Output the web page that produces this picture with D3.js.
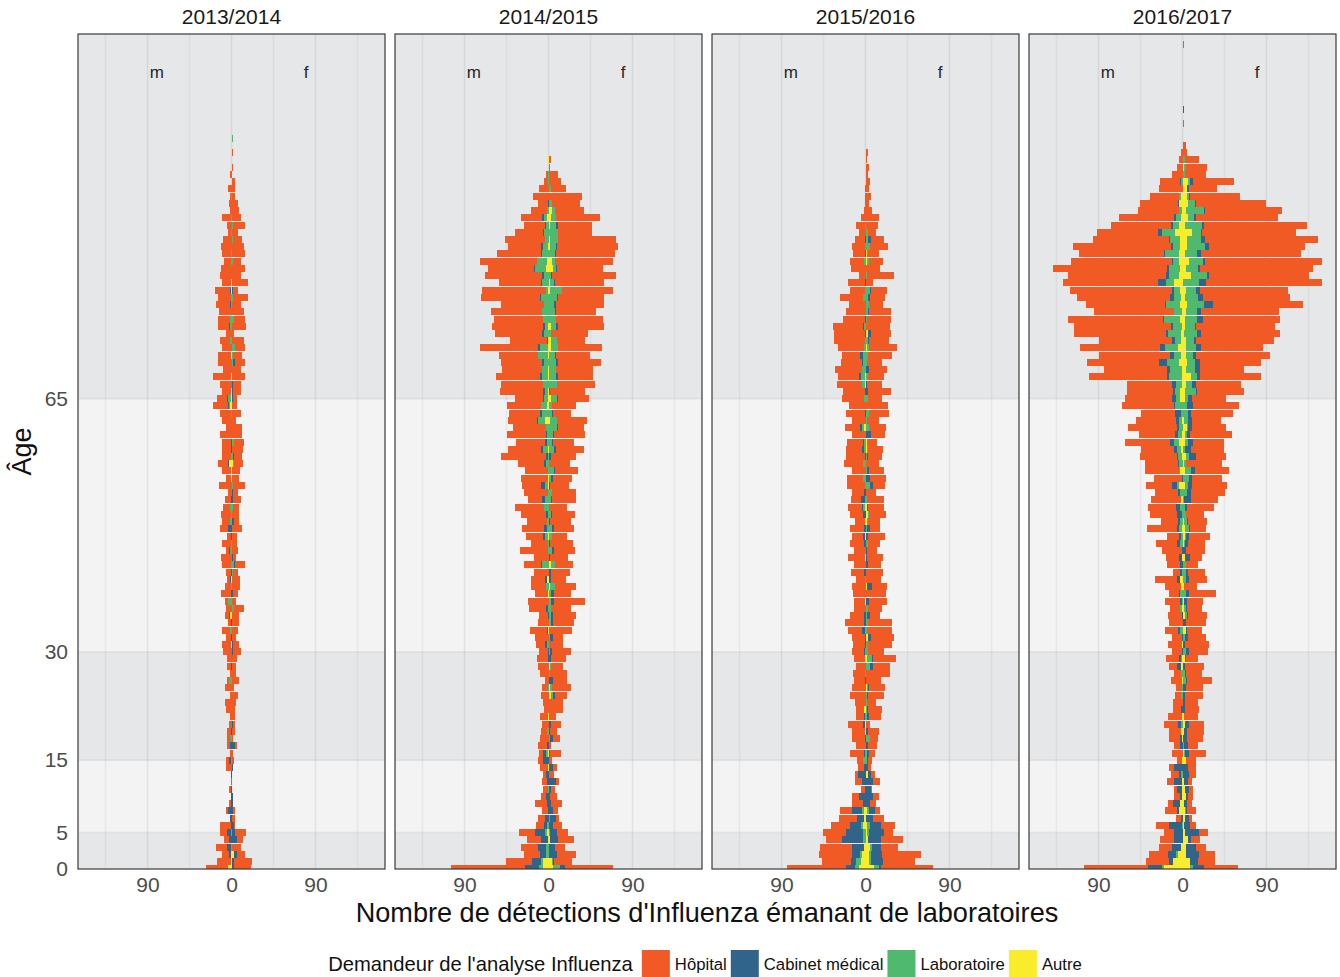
<!DOCTYPE html>
<html>
<head>
<meta charset="utf-8">
<script src="https://cdn.jsdelivr.net/npm/d3@7"></script>
<style>
  body { margin: 0; background: #fff; }
  svg text { font-family: "Liberation Sans", Arial, sans-serif; }
</style>
</head>
<body>
<div class="chart"></div>
<script>
// facets, requester categories and their colours
var seasons = ["2013/2014", "2014/2015", "2015/2016", "2016/2017"];
var categories = ["Hôpital", "Cabinet médical", "Laboratoire", "Autre"];
var colors = ["#F15A24", "#30648A", "#4FB96F", "#F8EC2B"];
var ageBreaks = [0, 5, 15, 30, 65];
var xTicks = [-90, 0, 90];
var xMinor = [-135, -45, 45, 135];

// detections per age (index = age in years), m = left, f = right
var hopM_1314 = [23,15,7,12,5,7,11,0,2,2, 0,2,1,0,6,3,2,3,3,4, 3,2,6,7,2,7,2,2,4,5, 9,9,5,8,3,4,6,3,10,6, 3,5,9,11,3,9,4,8,8,10, 7,6,4,13,5,9,10,9,9,9, 12,6,10,11,16,11,9,12,19,9, 14,13,10,10,6,12,13,13,15,13, 16,9,12,11,7,9,11,9,3,5, 9,2,3,1,4,0,2,0,0,0, 0,0];
var cabM_1314 = [0,0,2,4,3,4,1,2,4,1, 1,1,0,1,0,2,0,2,0,1, 0,0,0,0,0,0,0,0,1,0, 0,0,1,0,1,1,0,0,1,0, 1,1,0,0,1,0,1,4,0,0, 0,1,0,0,0,0,1,0,1,1, 0,0,0,0,1,1,0,0,0,0, 0,0,0,0,0,1,0,0,1,0, 1];
var labM_1314 = [0,0,0,1,0,1,0,0,0,0, 0,0,0,0,0,1,0,0,2,0, 0,0,0,0,0,0,3,0,0,0, 0,0,0,2,0,0,0,4,0,1, 0,0,1,0,2,1,0,0,2,1, 2,0,0,0,0,0,0,1,0,0, 0,0,0,1,1,3,0,0,0,0, 0,0,0,2,0,2,2,0,1,1, 0,0,0,0,1,1,0,0,1,0, 1,0,0,1];
var autM_1314 = [4,1,1,0,0,0,0,0,0,0, 0,0,0,0,0,0,0,0,0,0, 0,0,0,0,0,0,0,0,0,0, 0,1,0,0,0,2,0,0,0,0, 1,0,0,0,0,0,0,0,0,0, 0,0,0,0,1,1,3,0,0,0, 0,0,0,0,2,1,1,0,1,0, 0,1,0,0,0,0,0,0,0,0, 1,1];
var hopF_1314 = [18,19,8,9,6,12,1,3,1,0, 0,0,0,0,0,3,2,2,2,3, 2,4,4,5,7,1,7,5,5,6, 8,6,5,7,8,7,10,5,5,8, 8,5,11,3,6,5,6,11,5,7, 6,8,5,12,8,8,9,8,12,10, 10,10,5,9,6,4,8,8,14,10, 10,9,10,12,3,15,11,13,9,16, 5,17,10,14,8,14,13,9,6,12, 10,8,7,4,4,4,0,2,0,1];
var cabF_1314 = [2,2,3,0,6,4,3,1,2,2, 1,0,0,0,1,0,0,4,0,1, 1,0,0,0,0,1,1,0,0,0, 2,2,0,0,0,0,0,0,2,0, 0,0,1,2,0,0,0,0,2,0, 0,2,2,0,0,0,0,1,0,0, 1,0,0,0,0,1,1,2,0,0, 2,0,0,0,0,0,0,0,0,0, 1];
var labF_1314 = [0,0,0,1,0,0,0,0,0,0, 0,0,0,0,0,0,0,0,0,0, 0,0,0,0,0,0,0,0,0,0, 0,0,0,0,0,0,3,0,0,1, 0,2,3,0,1,1,0,0,1,0, 2,0,0,2,0,0,1,2,0,3, 0,0,0,1,0,0,0,0,0,0, 1,2,3,1,0,1,3,0,0,2, 1,1,0,0,2,0,0,2,1,2, 0,0,0,0,0,0,0,0,0,0, 0,1];
var autF_1314 = [1,1,3,0,0,0,0,0,0,0, 0,0,0,0,0,0,0,0,0,0, 1,0,0,0,0,0,0,0,0,0, 0,0,0,0,0,1,0,0,0,0, 1,0,0,0,0,0,0,0,0,1, 0,0,0,0,0,1,2,0,0,0, 0,1,0,0,0,1,1,0,0,0, 1,0,1,0,0,0,0,0,1];

var hopM_1415 = [80,28,17,19,15,18,8,7,6,12, 5,5,5,3,8,5,4,9,9,6, 7,8,5,6,8,6,4,9,11,11, 9,9,14,18,11,9,18,22,14,16, 15,16,18,16,30,18,18,23,21,26, 31,15,25,20,29,24,28,48,35,31, 41,35,31,33,36,30,46,45,47,43, 44,42,62,39,50,55,52,55,46,63, 68,45,61,49,61,47,35,43,30,22, 22,17,10,17,10,4,2,0,0];
var cabM_1415 = [15,10,6,8,7,10,3,4,1,2, 3,0,2,3,0,6,3,2,0,0, 0,0,0,0,0,0,0,0,0,1, 1,2,0,1,0,1,2,0,0,0, 2,0,1,0,0,0,2,3,0,2, 0,3,0,4,0,0,2,2,2,2, 1,0,1,2,0,1,2,0,2,0, 2,0,2,1,2,2,0,0,0,1, 0,1,2,1,0,1,2,0,1,1, 2,0,1];
var labM_1415 = [4,2,3,3,0,2,2,0,0,0, 0,1,0,0,0,0,2,0,0,2, 0,0,0,0,0,1,0,0,0,0, 0,2,0,0,0,0,1,0,0,3, 0,0,7,0,1,1,3,2,2,1, 5,4,1,3,0,1,3,1,5,2, 2,3,7,7,6,4,3,6,6,6, 5,10,8,0,5,3,6,7,5,8, 2,7,5,12,10,7,5,4,5,3, 3,2,0,0,0,1,1];
var autM_1415 = [6,6,0,0,1,2,0,0,0,0, 0,0,0,0,1,0,1,0,0,0, 0,1,0,0,0,0,0,0,0,0, 0,0,0,1,0,0,0,0,1,0, 2,0,0,0,0,0,1,0,0,0, 0,0,0,1,1,0,0,0,1,0, 0,0,4,0,2,1,1,0,1,1, 0,1,1,1,0,1,0,0,0,0, 1,0,0,3,2,0,1,0,0,0, 2,0,0,0,0,0,0,0,1];
var hopF_1415 = [51,19,20,11,17,12,10,3,5,11, 7,4,3,6,4,4,11,3,7,7, 10,8,15,15,13,20,15,18,13,16, 20,15,11,24,22,25,21,33,18,23, 16,20,19,19,22,24,16,21,22,24, 20,25,25,20,20,25,22,26,30,22, 33,28,32,19,26,33,37,41,38,40, 46,37,47,30,39,49,50,43,51,49, 55,52,68,49,62,63,66,62,37,37, 47,31,30,35,16,12,9,2,2];
var cabF_1415 = [6,1,8,7,8,7,4,6,5,3, 2,2,7,0,4,0,2,0,3,2, 3,0,0,0,2,0,4,0,0,3, 2,0,3,0,2,2,0,3,3,0, 2,3,0,2,2,2,0,2,1,1, 0,1,0,1,2,1,0,3,2,1, 1,1,0,1,0,1,1,0,2,0, 2,1,0,0,0,2,0,1,2,1, 0,1,1,1,0,1,1,0,0,2];
var labF_1415 = [7,1,1,0,0,1,1,1,0,0, 0,1,1,0,0,0,0,0,1,0, 0,0,0,0,2,2,0,2,1,0, 2,1,2,0,2,2,2,2,2,5, 1,0,4,0,4,0,3,4,1,3, 0,2,4,1,3,6,1,0,5,4, 5,9,7,4,4,6,0,8,7,7, 8,6,7,6,3,5,8,7,5,9, 12,4,3,3,3,6,6,8,9,6, 5,3,3,1,3,1,1,0,0];
var autF_1415 = [5,4,0,0,2,1,0,1,0,0, 0,0,0,0,1,0,0,0,1,0, 0,0,1,1,3,2,1,0,2,0, 0,0,0,1,1,1,1,1,1,2, 0,0,3,0,0,0,1,0,0,0, 0,1,0,0,0,0,0,0,1,0, 0,0,2,0,0,3,1,1,1,1, 0,1,3,3,0,3,0,0,1,0, 2,2,0,5,4,1,2,2,1,2, 3,4,1,0,0,0,0,0,1];

var hopM_1516 = [63,31,35,35,17,25,20,19,13,11, 7,4,7,3,6,6,15,10,13,13, 16,8,8,11,17,14,11,12,10,11, 12,12,14,15,20,15,12,11,13,15, 9,14,12,18,12,15,12,15,10,14, 15,11,12,19,17,15,20,20,17,17, 15,16,15,20,18,23,23,27,23,29, 22,19,28,33,33,32,23,21,18,24, 16,18,7,16,15,12,13,10,7,9, 5,2,1,1,1];
var cabM_1516 = [10,6,9,12,22,18,12,7,10,3, 7,1,4,8,2,0,1,0,1,0, 2,1,0,0,0,0,1,0,0,0, 1,1,1,3,2,2,0,0,0,0, 0,2,0,0,0,2,2,2,0,3, 1,4,2,0,0,0,0,1,2,1, 0,2,0,1,0,0,1,0,2,0, 1,3,0,0,1,1,1,0,0,0, 0,1,0,0,0,1,0,1];
var labM_1516 = [4,5,2,0,3,3,2,0,2,0, 0,0,0,0,0,3,1,0,0,0, 0,1,0,0,0,0,0,1,0,0, 1,0,0,1,0,0,0,0,0,0, 1,0,0,0,0,0,0,0,0,0, 2,1,0,1,3,0,3,0,2,2, 0,2,0,0,0,2,0,3,4,4, 3,3,2,1,0,2,0,0,0,3, 1,0,0,0,2,0,1,0,0,1];
var autM_1516 = [7,5,4,2,0,0,3,2,2,0, 0,0,0,0,0,0,0,0,0,1, 1,0,2,0,0,0,0,0,0,1, 0,0,0,0,0,0,0,1,0,0, 0,0,0,1,0,0,1,0,1,0, 1,0,0,0,0,0,0,0,0,0, 0,2,0,0,0,0,0,1,1,0];
var hopF_1516 = [55,34,42,18,23,10,15,12,6,6, 6,1,8,4,3,4,6,9,8,12, 4,13,15,9,17,17,17,25,18,25, 17,25,25,26,25,11,15,19,21,16, 16,18,14,17,10,13,18,11,13,18, 17,18,11,13,17,16,15,15,16,10, 15,18,13,21,24,15,24,16,17,19, 16,25,30,21,21,26,25,23,15,16, 17,7,29,16,15,12,19,14,8,12, 15,7,4,6,4,5,3,3,2,2];
var cabF_1516 = [3,13,12,10,14,16,12,7,6,5, 8,6,8,3,3,1,2,2,0,2, 1,2,1,0,1,1,0,0,3,1, 0,0,3,0,0,3,0,3,0,5, 0,0,2,1,2,0,2,3,0,0, 1,0,0,3,4,2,0,1,0,0, 6,0,0,0,0,0,2,1,0,3, 0,0,0,1,3,0,0,1,0,2, 1,0,0,0,0,0,0,3];
var labF_1516 = [5,2,2,2,0,2,3,0,2,0, 0,0,0,0,0,2,2,0,5,0, 0,2,2,2,2,1,0,0,5,5, 2,3,0,1,3,2,3,0,0,0, 1,1,0,0,0,3,0,2,1,1, 0,2,0,5,0,2,0,2,1,0, 0,3,2,4,0,3,1,0,3,0, 2,2,2,3,0,0,2,3,4,3, 4,0,2,0,2,0,5,3,2,1];
var autF_1516 = [9,4,4,5,3,2,2,1,2,0, 0,0,0,3,0,0,0,1,0,1, 0,0,0,0,0,2,0,1,0,2, 1,0,3,1,0,0,0,1,1,2, 0,0,1,1,0,0,1,0,2,3, 2,0,0,0,1,0,0,0,2,2, 0,1,0,0,0,0,0,1,0,1, 0,1,2,0,3,0,0,0,0,0, 1,1,0,0,2,2,0,0,1,0, 0,0,0,0,0,0,0,1,0,1];

var hopM_1617 = [69,25,20,14,15,11,14,5,13,6, 6,3,8,8,6,5,11,6,11,13, 15,15,8,10,6,6,11,7,8,14, 10,15,10,14,14,15,10,16,11,17, 24,7,14,14,21,22,13,32,18,29, 30,32,25,28,30,36,35,40,36,49, 39,52,43,37,56,51,49,49,83,67, 77,77,86,79,98,104,102,86,84,100, 110,102,105,122,109,91,105,81,66,65, 59,44,41,31,25,21,11,6,4,2];
var cabM_1617 = [15,4,9,9,9,9,13,2,2,7, 2,5,8,2,9,0,0,3,2,0, 3,0,2,0,0,0,0,0,4,2, 1,0,1,2,0,1,0,2,1,0, 3,2,3,3,1,3,2,2,2,5, 4,0,2,5,1,0,1,1,3,4, 3,2,3,6,1,4,2,4,2,4, 8,4,5,3,2,2,1,0,1,4, 2,8,3,2,1,1,2,1,4,2, 2,0,1,0,0,1];
var labM_1617 = [2,0,2,0,0,0,1,0,0,0, 0,0,0,2,0,0,0,0,0,0, 2,0,0,0,2,1,0,2,0,1, 0,0,0,3,0,0,2,1,3,0, 0,1,0,0,0,3,2,3,3,1, 3,0,3,2,0,1,4,4,4,5, 4,4,3,2,8,4,5,6,14,12, 13,7,14,6,14,9,17,8,15,7, 6,9,11,12,6,15,7,11,14,6, 5,3,0,2,0,2];
var autM_1617 = [20,10,5,2,0,0,0,0,4,3, 1,1,1,0,0,1,0,0,1,2, 0,1,0,0,0,0,1,0,2,1, 0,1,0,0,0,0,1,0,0,2, 3,0,0,1,0,0,0,1,0,0, 0,2,0,4,0,3,0,1,2,4, 1,0,1,0,0,3,3,1,1,1, 4,2,5,2,2,1,3,1,3,2, 3,9,4,3,4,4,3,3,8,4, 2,1,4,2,0,0];
var hopF_1617 = [36,18,17,11,10,9,7,3,9,5, 5,4,4,8,8,11,18,11,17,18, 16,15,15,14,19,18,27,17,20,13, 20,25,19,16,21,20,16,17,29,14, 19,18,13,13,20,18,23,17,20,19, 29,29,37,38,32,37,38,33,35,33, 45,37,31,45,50,37,50,49,65,47, 65,80,66,84,84,84,83,83,96,93, 94,125,108,121,126,107,103,121,101,110, 87,83,75,54,30,44,22,22,15,5, 4,0,0,1,0,0,0,0,0,0, 0,0,0,0,1];
var cabF_1617 = [12,9,14,10,3,15,6,4,1,3, 2,4,4,6,6,0,4,4,5,3, 4,0,2,3,2,4,1,1,2,1, 3,2,3,1,3,1,1,3,3,0, 3,2,0,5,4,3,3,1,1,0, 2,7,4,4,3,4,0,7,6,5, 3,4,4,3,6,4,1,4,3,6, 6,3,5,2,4,2,6,4,10,5, 4,7,2,2,2,4,4,4,1,2, 3,1,2,1,2,3,0,0,0,0, 0,0,0,0,0,1];
var labF_1617 = [3,0,0,0,0,0,0,0,1,0, 0,0,0,0,0,0,1,2,0,0, 0,0,1,0,1,0,3,3,0,0, 4,0,3,0,1,2,2,0,3,0, 4,4,4,0,0,1,1,4,3,4, 3,2,5,3,6,6,2,3,3,3, 2,1,4,5,5,3,12,6,7,9, 8,7,11,8,14,10,13,12,18,14, 11,17,17,13,15,13,19,15,10,18, 6,19,7,2,0,2,3,2,3];
var autF_1617 = [8,8,4,4,6,3,2,3,3,2, 4,3,2,1,0,4,2,0,0,2, 3,2,0,0,0,0,1,0,1,3, 0,1,0,4,0,3,2,2,1,2, 0,0,0,3,0,2,3,3,2,0, 0,0,0,3,1,3,2,4,0,3, 3,5,2,1,0,3,3,4,9,4, 5,4,4,4,2,3,3,4,5,3, 4,1,9,4,7,3,5,5,10,3, 6,4,6,5,5,6,0,2];

// per season: [Hôpital, Cabinet, Laboratoire, Autre] for each sex
var seasonData = [
  { m: [hopM_1314, cabM_1314, labM_1314, autM_1314], f: [hopF_1314, cabF_1314, labF_1314, autF_1314] },
  { m: [hopM_1415, cabM_1415, labM_1415, autM_1415], f: [hopF_1415, cabF_1415, labF_1415, autF_1415] },
  { m: [hopM_1516, cabM_1516, labM_1516, autM_1516], f: [hopF_1516, cabF_1516, labF_1516, autF_1516] },
  { m: [hopM_1617, cabM_1617, labM_1617, autM_1617], f: [hopF_1617, cabF_1617, labF_1617, autF_1617] }
];

var svgWidth = 1340, svgHeight = 977;
var panelTop = 34, panelBottom = 869, panelW = 307, panelGap = 10, firstPanelX = 78;
var barWidth = 0.97;   // bars a touch thinner than one year, like the original

var svg = d3.select(".chart").append("svg")
  .attr("width", svgWidth)
  .attr("height", svgHeight);

var y = d3.scaleLinear().domain([0, 115.45]).range([panelBottom - 0.27, panelTop - 0.27]);

// stack from the centre outwards: Autre, Laboratoire, Cabinet, Hôpital
var stackOrder = [3, 2, 1, 0];

function buildSegments(d) {
  var segs = [];
  ["m", "f"].forEach(function(sex) {
    var sign = sex === "m" ? -1 : 1;
    var n = d3.max(d[sex], function(a) { return a.length; });
    for (var age = 0; age < n; age++) {
      var cum = 0;
      stackOrder.forEach(function(k) {
        var v = d[sex][k][age] || 0;
        if (v > 0) {
          segs.push({ age: age, cat: k, x0: sign * cum, x1: sign * (cum + v) });
          cum += v;
        }
      });
    }
  });
  return segs;
}

var bandEdges = ageBreaks.concat([115.45]);

seasons.forEach(function(season, i) {
  var x0 = firstPanelX + i * (panelW + panelGap);
  var x = d3.scaleLinear().domain([-164.5, 164.5]).range([x0, x0 + panelW]);

  var panel = svg.append("g").attr("class", "panel");

  // background bands by age group
  panel.selectAll("rect.band")
    .data(d3.range(bandEdges.length - 1))
    .enter().append("rect")
      .attr("class", "band")
      .attr("x", x0)
      .attr("width", panelW)
      .attr("y", function(j) { return Math.max(panelTop, y(bandEdges[j + 1])); })
      .attr("height", function(j) { return Math.min(panelBottom, y(bandEdges[j])) - Math.max(panelTop, y(bandEdges[j + 1])); })
      .attr("fill", function(j) { return j % 2 === 0 ? "#e6e7e8" : "#f3f3f3"; });

  // grid
  panel.selectAll("line.vgrid")
    .data(xTicks.concat(xMinor))
    .enter().append("line")
      .attr("x1", function(d) { return x(d); })
      .attr("x2", function(d) { return x(d); })
      .attr("y1", panelTop)
      .attr("y2", panelBottom)
      .attr("stroke", "#000")
      .attr("stroke-opacity", function(d) { return xTicks.indexOf(d) >= 0 ? 0.065 : 0.045; })
      .attr("stroke-width", 1.6);

  panel.selectAll("line.hgrid")
    .data(ageBreaks.slice(1))
    .enter().append("line")
      .attr("x1", x0)
      .attr("x2", x0 + panelW)
      .attr("y1", function(d) { return y(d); })
      .attr("y2", function(d) { return y(d); })
      .attr("stroke", "#000")
      .attr("stroke-opacity", 0.065)
      .attr("stroke-width", 1.6);

  svg.append("clipPath").attr("id", "clip" + i)
    .append("rect")
      .attr("x", x0).attr("y", panelTop)
      .attr("width", panelW).attr("height", panelBottom - panelTop);

  // thin one-count segments keep at least a pixel so they stay visible
  panel.append("g")
    .attr("clip-path", "url(#clip" + i + ")")
    .attr("shape-rendering", "crispEdges")
    .selectAll("rect")
    .data(buildSegments(seasonData[i]))
    .enter().append("rect")
      .attr("x", function(d) { return x(Math.min(d.x0, d.x1)); })
      .attr("width", function(d) { return Math.max(1.15, Math.abs(x(d.x1) - x(d.x0))); })
      .attr("y", function(d) { return y(d.age + barWidth / 2); })
      .attr("height", function(d) { return y(d.age - barWidth / 2) - y(d.age + barWidth / 2); })
      .attr("fill", function(d) { return colors[d.cat]; });

  // m / f labels
  panel.selectAll("text.sex")
    .data([["m", -80], ["f", 80]])
    .enter().append("text")
      .attr("x", function(d) { return x(d[1]); })
      .attr("y", y(110.1))
      .attr("dy", "0.35em")
      .attr("text-anchor", "middle")
      .attr("font-size", 17)
      .attr("fill", "#262626")
      .text(function(d) { return d[0]; });

  panel.append("rect")
    .attr("x", x0).attr("y", panelTop)
    .attr("width", panelW).attr("height", panelBottom - panelTop)
    .attr("fill", "none")
    .attr("stroke", "#3a3a3a")
    .attr("stroke-width", 1.2);

  // facet title
  svg.append("text")
    .attr("x", x0 + panelW / 2)
    .attr("y", 17)
    .attr("dy", "0.35em")
    .attr("text-anchor", "middle")
    .attr("font-size", 21)
    .attr("fill", "#1a1a1a")
    .text(season);

  // x axis
  var xAxis = svg.append("g")
    .attr("transform", "translate(0," + panelBottom + ")")
    .call(d3.axisBottom(x).tickValues(xTicks).tickSize(0).tickPadding(8)
      .tickFormat(function(d) { return Math.abs(d); }));
  xAxis.select(".domain").remove();
  xAxis.selectAll("text")
    .attr("font-size", 21)
    .attr("fill", "#4d4d4d")
    .style("font-family", "'Liberation Sans', Arial, sans-serif");
});

// y axis
var yAxis = svg.append("g")
  .attr("transform", "translate(" + firstPanelX + ",0)")
  .call(d3.axisLeft(y).tickValues(ageBreaks).tickSize(0).tickPadding(10));
yAxis.select(".domain").remove();
yAxis.selectAll("text")
  .attr("font-size", 21)
  .attr("fill", "#4d4d4d")
  .style("font-family", "'Liberation Sans', Arial, sans-serif");

// axis titles
svg.append("text")
  .attr("x", 707)
  .attr("y", 913)
  .attr("dy", "0.35em")
  .attr("text-anchor", "middle")
  .attr("font-size", 27.1)
  .attr("fill", "#111")
  .text("Nombre de détections d'Influenza émanant de laboratoires");

svg.append("text")
  .attr("transform", "translate(22," + y(57.7) + ") rotate(-90)")
  .attr("dy", "0.35em")
  .attr("text-anchor", "middle")
  .attr("font-size", 27)
  .attr("fill", "#111")
  .text("Âge");

// legend, laid out from measured text widths and centred under the panels
var legend = svg.append("g");
var legendY = 964;
var keySize = 28;
var title = legend.append("text")
  .attr("x", 0)
  .attr("y", legendY)
  .attr("dy", "0.35em")
  .attr("font-size", 20.2)
  .attr("fill", "#111")
  .text("Demandeur de l'analyse Influenza");
var cursor = title.node().getComputedTextLength() + 9;
categories.forEach(function(c, k) {
  legend.append("rect")
    .attr("x", cursor)
    .attr("y", legendY - 14)
    .attr("width", keySize)
    .attr("height", keySize)
    .attr("fill", colors[k]);
  var t = legend.append("text")
    .attr("x", cursor + keySize + 5)
    .attr("y", legendY)
    .attr("dy", "0.35em")
    .attr("font-size", 16.7)
    .attr("fill", "#111")
    .text(c);
  cursor += keySize + 5 + t.node().getComputedTextLength() + 4;
});
legend.attr("transform", "translate(" + (707 - cursor / 2) + ",0)");
</script>
</body>
</html>
